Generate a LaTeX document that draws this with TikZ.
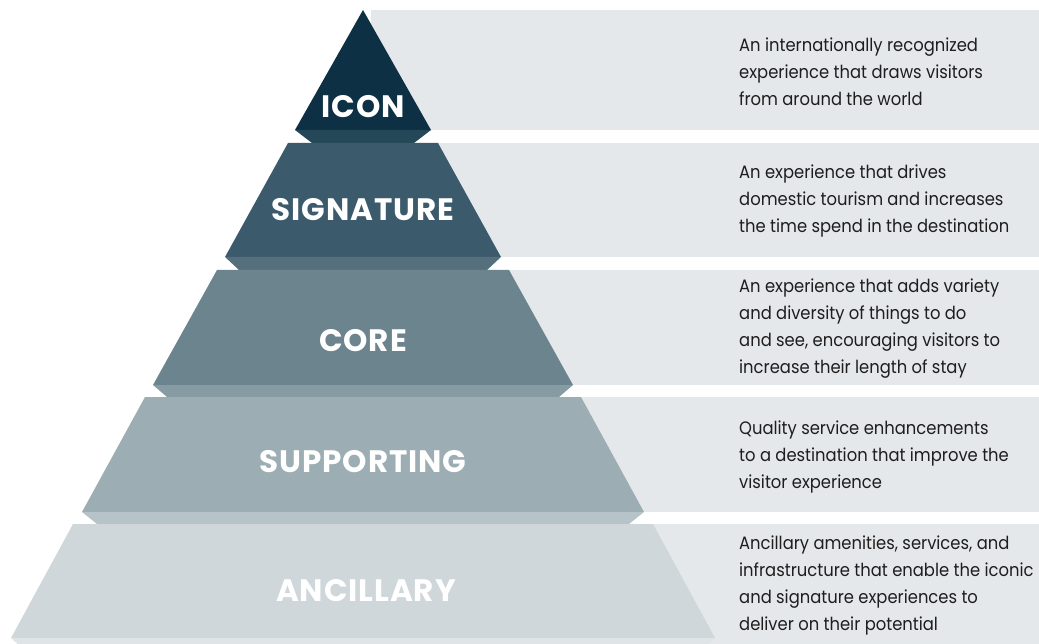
\documentclass[tikz,border=0pt]{standalone}
\usepackage{fontspec}
\setmainfont{Poppins}
\newfontfamily\descfont{Poppins}[FakeStretch=0.91]
\newfontfamily\tierfont{Poppins}[LetterSpace=3]
\definecolor{bandgrey}{HTML}{E5E8EB}
\definecolor{desctext}{HTML}{1E1E1E}
\definecolor{icontop}{HTML}{0D3044}
\definecolor{iconedge}{HTML}{244858}
\definecolor{sigtop}{HTML}{3B5A6B}
\definecolor{sigedge}{HTML}{566F7C}
\definecolor{coretop}{HTML}{6B848E}
\definecolor{coreedge}{HTML}{879BA2}
\definecolor{supptop}{HTML}{9CADB3}
\definecolor{suppedge}{HTML}{B6C3C8}
\definecolor{anctop}{HTML}{CFD7DA}
\definecolor{ancedge}{HTML}{DFE4E6}
\begin{document}
\begin{tikzpicture}[x=1pt,y=-1pt,
	band/.style={fill=bandgrey},
	tierlabel/.style={text=white,font=\tierfont\fontsize{31}{33}\selectfont\bfseries},
	desc/.style={anchor=west,align=left,inner sep=0pt,text=desctext,font=\descfont\fontsize{18}{27}\selectfont}]
	\useasboundingbox (0,0) rectangle (1039,644);
	\clip (0,0) rectangle (1039,644);
	% grey bands behind the text
	\fill[band] (371,10)  rectangle (1039,130);
	\fill[band] (371,143) rectangle (1039,257);
	\fill[band] (371,270) rectangle (1039,385);
	\fill[band] (371,397) rectangle (1039,512);
	\fill[band] (371,524) rectangle (1039,644);
	% pyramid, one tier and its bevel at a time
	\fill[icontop]  (363,10) -- (431,130) -- (295,130) -- cycle;
	\fill[iconedge] (295,130) -- (431,130) -- (414,143) -- (312,143) -- cycle;
	\fill[sigtop]   (288,143) -- (438,143) -- (501,257) -- (225,257) -- cycle;
	\fill[sigedge]  (225,257) -- (501,257) -- (487,270) -- (239,270) -- cycle;
	\fill[coretop]  (217,270) -- (509,270) -- (573,385) -- (153,385) -- cycle;
	\fill[coreedge] (153,385) -- (573,385) -- (559,397) -- (167,397) -- cycle;
	\fill[supptop]  (145,397) -- (581,397) -- (644,512) -- (82,512) -- cycle;
	\fill[suppedge] (82,512) -- (644,512) -- (629,524) -- (97,524) -- cycle;
	\fill[anctop]   (73,524) -- (653,524) -- (715,638) -- (11,638) -- cycle;
	\fill[ancedge]  (11,638) -- (715,638) -- (701,651) -- (25,651) -- cycle;
	\node[tierlabel] (icon) at (363,107) {ICON};
	\node[tierlabel] (signature) at (363,210) {SIGNATURE};
	\node[tierlabel] (core) at (363,341) {CORE};
	\node[tierlabel] (supporting) at (363,462) {SUPPORTING};
	\node[tierlabel] (ancillary) at (366,591) {ANCILLARY};
	\node[desc] (icondesc) at (739,72) {An internationally recognized\\experience that draws visitors\\from around the world};
	\node[desc] (sigdesc) at (739,201) {An experience that drives\\domestic tourism and increases\\the time spend in the destination};
	\node[desc] (coredesc) at (739,329) {An experience that adds variety\\and diversity of things to do\\and see, encouraging visitors to\\increase their length of stay};
	\node[desc] (suppdesc) at (739,457) {Quality service enhancements\\to a destination that improve the\\visitor experience};
	\node[desc] (ancdesc) at (739,585) {Ancillary amenities, services, and\\infrastructure that enable the iconic\\and signature experiences to\\deliver on their potential};
\end{tikzpicture}
\end{document}
